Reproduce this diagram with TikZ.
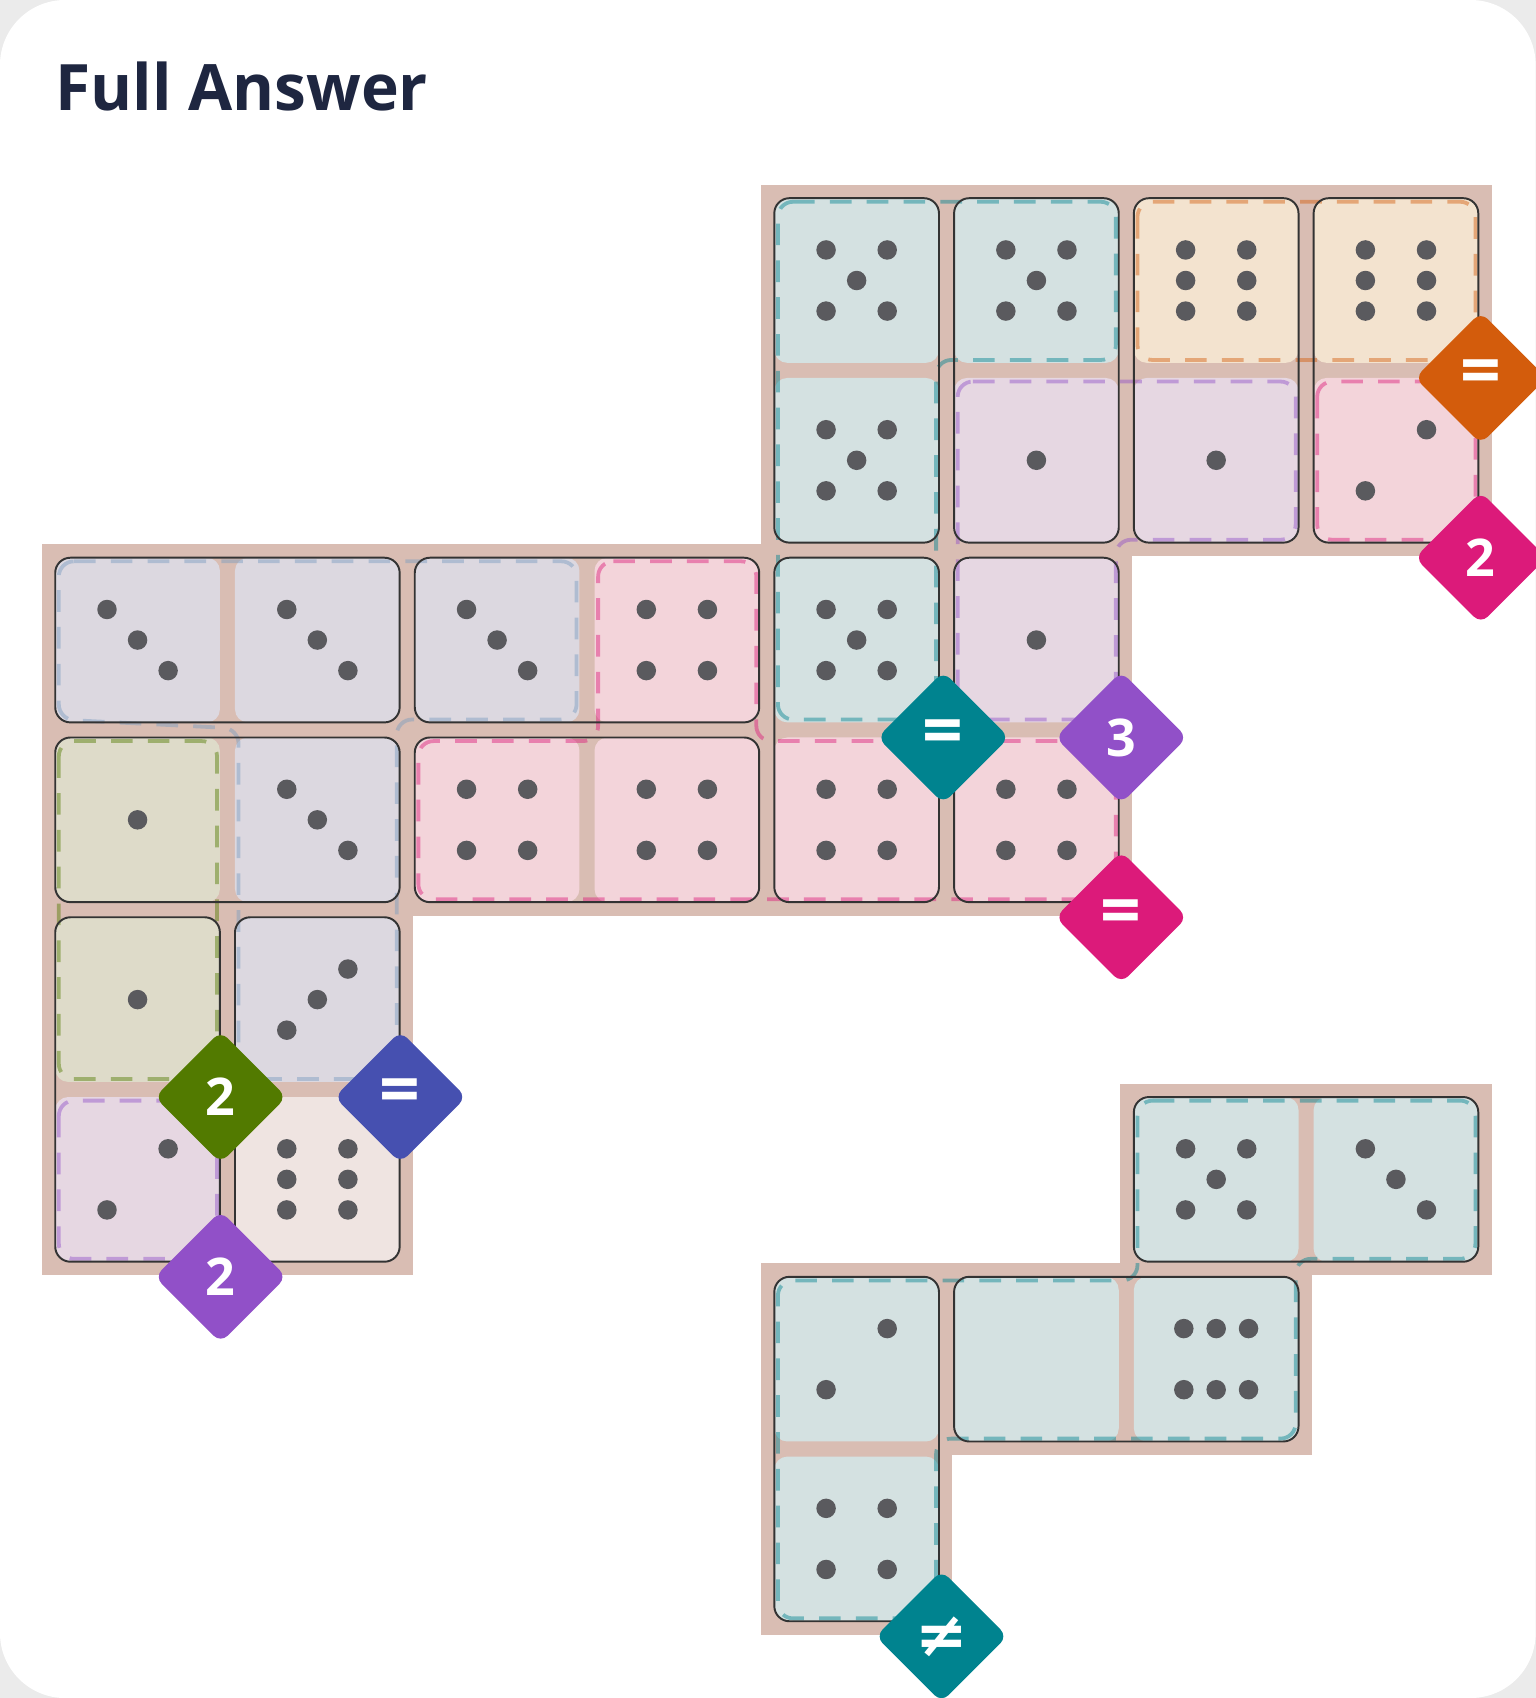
\documentclass[tikz,border=0pt]{standalone}
\usepackage{fontspec}
\setmainfont{Open Sans}
\usepackage{graphicx}
\definecolor{tanbg}{HTML}{D9BDB3}
\definecolor{cT}{HTML}{D4E1E1}
\definecolor{cO}{HTML}{F3E3CF}
\definecolor{cP}{HTML}{E6D7E2}
\definecolor{cK}{HTML}{F3D4DA}
\definecolor{cL}{HTML}{DCD8E0}
\definecolor{cG}{HTML}{DEDBC9}
\definecolor{cW}{HTML}{EFE4E1}
\definecolor{dT}{HTML}{00838F}
\definecolor{dO}{HTML}{D35C0C}
\definecolor{dK}{HTML}{DC1A7A}
\definecolor{dP}{HTML}{9150C8}
\definecolor{dG}{HTML}{527A00}
\definecolor{dB}{HTML}{4650B0}
\definecolor{dL}{HTML}{7A9CC0}
\definecolor{pipc}{HTML}{5A5A5E}
\definecolor{titlec}{HTML}{1E2640}
\newcommand\eqsf{\fontsize{66}{66}\selectfont}
\tikzset{
 domline/.style={draw=black!80,line width=1.8pt,rounded corners=14pt},
 regline/.style={line width=3.5pt,dash pattern=on 20pt off 14pt,rounded corners=14pt,opacity=0.45},
 diam/.style={rotate=45,minimum size=86pt,inner sep=0pt,rounded corners=9pt,text=white,font=\bfseries\fontsize{48}{48}\selectfont,shape=rectangle}
}
\newcommand\cellat[4]{%
 \fill[#4,rounded corners=12pt] (#1,#2) rectangle ++(0.916,0.916);
 \begin{scope}[shift={(#1+0.458,#2+0.458)}]
 \ifcase#3\relax
 \or \fill[pipc] (0,0) circle (9pt);
 \or \foreach \p in {(0.17,-0.17),(-0.17,0.17)} \fill[pipc] \p circle (9pt);
 \or \foreach \p in {(-0.17,-0.17),(0,0),(0.17,0.17)} \fill[pipc] \p circle (9pt);
 \or \foreach \p in {(-0.17,-0.17),(0.17,0.17),(0.17,-0.17),(-0.17,0.17)} \fill[pipc] \p circle (9pt);
 \or \foreach \p in {(-0.17,-0.17),(0.17,0.17),(0.17,-0.17),(-0.17,0.17),(0,0)} \fill[pipc] \p circle (9pt);
 \or \foreach \p in {(-0.17,-0.17),(0.17,-0.17),(-0.17,0),(0.17,0),(-0.17,0.17),(0.17,0.17)} \fill[pipc] \p circle (9pt);
 \or \foreach \p in {(-0.18,-0.17),(0,-0.17),(0.18,-0.17),(-0.18,0.17),(0,0.17),(0.18,0.17)} \fill[pipc] \p circle (9pt);
 \or \foreach \p in {(-0.17,0.17),(0,0),(0.17,-0.17)} \fill[pipc] \p circle (9pt);
 \fi
 \end{scope}}
\begin{document}
\begin{tikzpicture}[x=166pt,y=-166pt]
\fill[black!8] (-0.3072,-1.1024) rectangle (8.235,8.343);
\fill[white,rounded corners=60pt] (-0.3072,-1.1024) rectangle (8.235,8.343);
\useasboundingbox (-0.3072,-1.1024) rectangle (8.235,8.343);
\node[anchor=west,inner sep=0pt,text=titlec] (title) at (0,-0.62) {\resizebox{344pt}{!}{\bfseries Full Answer}};
% background
\foreach \c/\r in {4/0,5/0,6/0,7/0,4/1,5/1,6/1,7/1,0/2,1/2,2/2,3/2,4/2,5/2,0/3,1/3,2/3,3/3,4/3,5/3,0/4,1/4,0/5,1/5,6/5,7/5,4/6,5/6,6/6,4/7}
 {\fill[tanbg] (\c-0.075,\r-0.075) rectangle (\c+0.991,\r+0.991);}
% cells
\foreach \c/\r/\v/\k in {4/0/5/cT,5/0/5/cT,6/0/6/cO,7/0/6/cO,4/1/5/cT,5/1/1/cP,6/1/1/cP,7/1/2/cK,
 0/2/3/cL,1/2/3/cL,2/2/3/cL,3/2/4/cK,4/2/5/cT,5/2/1/cP,
 0/3/1/cG,1/3/3/cL,2/3/4/cK,3/3/4/cK,4/3/4/cK,5/3/4/cK,
 0/4/1/cG,1/4/8/cL,0/5/2/cP,1/5/6/cW,6/5/5/cT,7/5/3/cT,4/6/2/cT,5/6/0/cT,6/6/7/cT,4/7/4/cT}
 {\cellat{\c}{\r}{\v}{\k}}
% region outlines
\draw[regline,dT] (4.02,0.02)--(5.9,0.02)--(5.9,0.9)--(4.9,0.9)--(4.9,2.9)--(4.02,2.9)--cycle;
\draw[regline,dO] (6.02,0.02) rectangle (7.9,0.9);
\draw[regline,dP] (5.02,1.02)--(6.9,1.02)--(6.9,1.9)--(5.9,1.9)--(5.9,2.9)--(5.02,2.9)--cycle;
\draw[regline,dK] (7.02,1.02) rectangle (7.9,1.9);
\draw[regline,dL] (0.02,2.02)--(2.9,2.02)--(2.9,2.9)--(1.9,2.9)--(1.9,4.9)--(1.02,4.9)--(1.02,2.95)--(0.02,2.9)--cycle;
\draw[regline,dK] (3.02,2.02)--(3.9,2.02)--(3.9,3.02)--(5.9,3.02)--(5.9,3.9)--(2.02,3.9)--(2.02,3.02)--(3.02,3.02)--cycle;
\draw[regline,dG] (0.02,3.02) rectangle (0.9,4.9);
\draw[regline,dP] (0.02,5.02) rectangle (0.9,5.9);
\draw[regline,dT] (6.02,5.02)--(7.9,5.02)--(7.9,5.9)--(6.9,5.9)--(6.9,6.9)--(4.9,6.9)--(4.9,7.9)--(4.02,7.9)--(4.02,6.02)--(6.02,6.02)--cycle;
% dominoes
\foreach \a/\b/\c/\d in {4/0/4/1,5/0/5/1,6/0/6/1,7/0/7/1,0/2/1/2,2/2/3/2,4/2/4/3,5/2/5/3,0/3/1/3,2/3/3/3,0/4/0/5,1/4/1/5,6/5/7/5,4/6/4/7,5/6/6/6}
 \draw[domline] (\a,\b) rectangle (\c+0.916,\d+0.916);
% constraints
\node[diam,fill=dO] (k1) at (7.93,1.0) {\rotatebox{-45}{\eqsf =}};
\node[diam,fill=dK] (k2) at (7.93,2.0) {\rotatebox{-45}{2}};
\node[diam,fill=dT] (k3) at (4.94,3.0) {\rotatebox{-45}{\eqsf =}};
\node[diam,fill=dP] (k4) at (5.93,3.0) {\rotatebox{-45}{3}};
\node[diam,fill=dK] (k5) at (5.93,4.0) {\rotatebox{-45}{\eqsf =}};
\node[diam,fill=dG] (k6) at (0.92,5.0) {\rotatebox{-45}{2}};
\node[diam,fill=dB] (k7) at (1.92,5.0) {\rotatebox{-45}{\eqsf =}};
\node[diam,fill=dP] (k8) at (0.92,6.0) {\rotatebox{-45}{2}};
\node[diam,fill=dT] (k9) at (4.93,8.0) {\rotatebox{-45}{\fontspec{DejaVu Sans}\bfseries\fontsize{58}{58}\selectfont ≠}};
\end{tikzpicture}
\end{document}
